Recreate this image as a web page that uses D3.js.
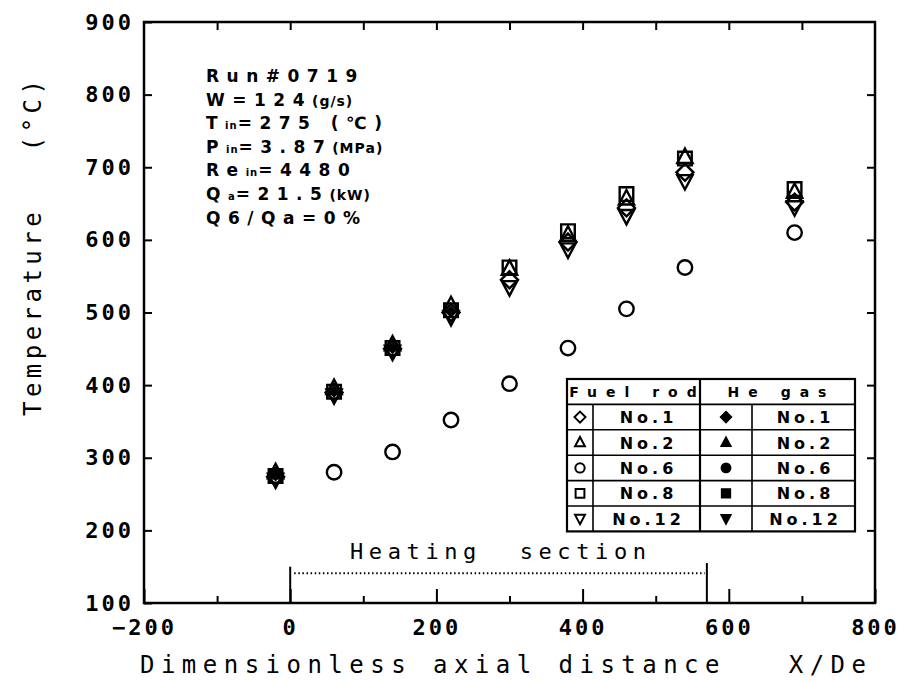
<!DOCTYPE html>
<html>
<head>
<meta charset="utf-8">
<script src="https://cdn.jsdelivr.net/npm/d3@7"></script>
<style>
  body { margin: 0; background: #fff; }
  svg { display: block; }
  text { fill: #000; white-space: pre; }
</style>
</head>
<body>
<div id="chart"></div>
<script>
// data
let xPos = [-20, 60, 140, 220, 300, 380, 460, 540, 690]
let rod1 = [274, 390, 450, 500, 545, 597, 644, 693, 652]
let rod2 = [280, 396, 456, 510, 560, 607, 657, 714, 666]
let rod6 = [274, 280, 308, 352, 402, 451, 505, 562, 610]
let rod8 = [275, 391, 451, 503, 562, 612, 663, 712, 670]
let rod12 = [270, 386, 446, 494, 535, 587, 633, 681, 645]
let gas1 = [276, 391, 451, 501, null, null, null, null, null]

let xTickLabels = [-200, 0, 200, 400, 600, 800]
let xMinor = [-100, 100, 300, 500, 700]
let yTickLabels = [100, 200, 300, 400, 500, 600, 700, 800, 900]
let heatingRange = [0, 570]

let runInfo = [
    [['Run#0719', 0]],
    [['W=124', 0], ['(g/s)', 1]],
    [['T', 0], ['in', 2], ['=275 (℃)', 0]],
    [['P', 0], ['in', 2], ['=3.87', 0], ['(MPa)', 1]],
    [['Re', 0], ['in', 2], ['=4480', 0]],
    [['Q', 0], ['a', 2], ['=21.5', 0], ['(kW)', 1]],
    [['Q6/Qa=0%', 0]]
]

let legendRows = [
    { rod: 'diamond', rodLabel: 'No.1', gas: 'diamond', gasLabel: 'No.1' },
    { rod: 'up', rodLabel: 'No.2', gas: 'up', gasLabel: 'No.2' },
    { rod: 'circle', rodLabel: 'No.6', gas: 'circle', gasLabel: 'No.6' },
    { rod: 'square', rodLabel: 'No.8', gas: 'square', gasLabel: 'No.8' },
    { rod: 'down', rodLabel: 'No.12', gas: 'down', gasLabel: 'No.12' }
]

const W = 904, H = 681
const mono = "'DejaVu Sans Mono', monospace"

const svg = d3.select('#chart').append('svg')
    .attr('width', W).attr('height', H)

const x = d3.scaleLinear().domain([-200, 800]).range([144, 875])
const y = d3.scaleLinear().domain([100, 900]).range([603, 22])

function shapePath(type, s) {
    if (type == 'diamond') return `M0,${-s}L${s},0L0,${s}L${-s},0Z`
    if (type == 'up') return `M0,${-s}L${s*0.9},${s*0.7}L${-s*0.9},${s*0.7}Z`
    if (type == 'down') return `M0,${s}L${s*0.9},${-s*0.7}L${-s*0.9},${-s*0.7}Z`
    if (type == 'square') return `M${-s*0.8},${-s*0.8}H${s*0.8}V${s*0.8}H${-s*0.8}Z`
    let r = s * 0.85
    return `M${r},0A${r},${r} 0 1,1 ${-r},0A${r},${r} 0 1,1 ${r},0Z`
}

// frame
svg.append('rect')
    .attr('x', x(-200)).attr('y', y(900))
    .attr('width', x(800) - x(-200)).attr('height', y(100) - y(900))
    .attr('fill', 'none').attr('stroke', '#000').attr('stroke-width', 2.5)

// bottom axis, major ticks + labels
let bottom = svg.append('g')
    .attr('transform', `translate(0,${y(100)})`)
    .call(d3.axisBottom(x).tickValues(xTickLabels).tickSizeInner(-14).tickSizeOuter(0).tickPadding(16))
bottom.select('.domain').remove()
bottom.selectAll('line').attr('stroke-width', 2)
bottom.selectAll('text').style('font-family', mono).style('font-weight', 'bold')
    .style('font-size', '22px').style('letter-spacing', '3px')

svg.append('g')
    .attr('transform', `translate(0,${y(100)})`)
    .call(d3.axisBottom(x).tickValues(xMinor).tickSize(-7).tickFormat(''))
    .call(g => g.select('.domain').remove())
    .selectAll('line').attr('stroke-width', 2)

// top ticks
svg.append('g')
    .attr('transform', `translate(0,${y(900)})`)
    .call(d3.axisTop(x).tickValues(d3.range(-100, 800, 100)).tickSize(-8).tickFormat(''))
    .call(g => g.select('.domain').remove())
    .selectAll('line').attr('stroke-width', 2)

// left axis
let left = svg.append('g')
    .attr('transform', `translate(${x(-200)},0)`)
    .call(d3.axisLeft(y).tickValues(yTickLabels).tickSizeInner(-8).tickSizeOuter(0).tickPadding(10))
left.select('.domain').remove()
left.selectAll('line').attr('stroke-width', 2)
left.selectAll('text').style('font-family', mono).style('font-weight', 'bold')
    .style('font-size', '22px').style('letter-spacing', '3px')

// right ticks
svg.append('g')
    .attr('transform', `translate(${x(800)},0)`)
    .call(d3.axisRight(y).tickValues(d3.range(200, 900, 100)).tickSize(-8).tickFormat(''))
    .call(g => g.select('.domain').remove())
    .selectAll('line').attr('stroke-width', 2)

// axis titles
svg.append('text')
    .attr('x', 140).attr('y', 673)
    .attr('textLength', 726)
    .style('font-family', mono).style('font-size', '24px')
    .text('Dimensionless axial distance   X/De')

svg.append('text')
    .attr('transform', `translate(41,416) rotate(-90)`)
    .attr('textLength', 336)
    .style('font-family', mono).style('font-size', '24px')
    .text('Temperature   (°C)')

// heating section
let hs = svg.append('g')
hs.append('line')
    .attr('x1', x(heatingRange[0]) + 4).attr('x2', x(heatingRange[1]) - 2)
    .attr('y1', y(141)).attr('y2', y(141))
    .attr('stroke', '#000').attr('stroke-width', 2).attr('stroke-dasharray', '1.5,2.6')
hs.append('line')
    .attr('x1', x(heatingRange[0])).attr('x2', x(heatingRange[0]))
    .attr('y1', y(100)).attr('y2', y(150))
    .attr('stroke', '#000').attr('stroke-width', 2)
hs.append('line')
    .attr('x1', x(heatingRange[1])).attr('x2', x(heatingRange[1]))
    .attr('y1', y(100)).attr('y2', y(155))
    .attr('stroke', '#000').attr('stroke-width', 2)
hs.append('text')
    .attr('x', 350).attr('y', 559)
    .attr('textLength', 296)
    .style('font-family', mono).style('font-size', '22px')
    .text('Heating  section')

// run info block
let info = svg.append('g').attr('transform', 'translate(206,0)')
runInfo.forEach((line, i) => {
    let t = info.append('text')
        .attr('y', 82 + i * 23.6)
        .style('font-family', "'DejaVu Sans', sans-serif")
        .style('font-weight', 'bold')
    line.forEach(seg => {
        let sp = t.append('tspan').text(seg[0])
        if (seg[1] == 0) sp.style('font-size', '17px').style('letter-spacing', '7.5px')
        if (seg[1] == 1) sp.style('font-size', '14px').style('letter-spacing', '1px')
        if (seg[1] == 2) sp.style('font-size', '10px').style('letter-spacing', '1px')
    })
})

// data points
let series = [
    { vals: rod8, shape: 'square', fill: 'none' },
    { vals: rod2, shape: 'up', fill: 'none' },
    { vals: rod1, shape: 'diamond', fill: 'none' },
    { vals: rod12, shape: 'down', fill: 'none' },
    { vals: rod6, shape: 'circle', fill: 'none' },
    { vals: gas1, shape: 'diamond', fill: '#000' }
]
let pts = svg.append('g')
series.forEach(s => {
    let data = xPos.map((d, i) => [d, s.vals[i]]).filter(d => d[1] != null)
    pts.selectAll(null)
        .data(data)
        .join('path')
        .attr('transform', d => `translate(${x(d[0])},${y(d[1])})`)
        .attr('d', shapePath(s.shape, s.fill == 'none' ? 8.5 : 4.5))
        .attr('fill', s.fill)
        .attr('stroke', '#000')
        .attr('stroke-width', 2.4)
})

// legend table
let lg = svg.append('g').attr('transform', 'translate(567,379)')
let cols = [0, 26, 133, 185, 288]
let rowH = 25.4
lg.append('rect').attr('width', cols[4]).attr('height', rowH * 6)
    .attr('fill', '#fff').attr('stroke', '#000').attr('stroke-width', 2.2)
d3.range(1, 6).forEach(r => {
    lg.append('line').attr('x1', 0).attr('x2', cols[4])
        .attr('y1', r * rowH).attr('y2', r * rowH)
        .attr('stroke', '#000').attr('stroke-width', 1.6)
})
;[1, 3].forEach(c => {
    lg.append('line').attr('x1', cols[c]).attr('x2', cols[c])
        .attr('y1', rowH).attr('y2', rowH * 6)
        .attr('stroke', '#000').attr('stroke-width', 1.6)
})
lg.append('line').attr('x1', cols[2]).attr('x2', cols[2])
    .attr('y1', 0).attr('y2', rowH * 6)
    .attr('stroke', '#000').attr('stroke-width', 2.2)

let headFont = g => g.style('font-family', "'DejaVu Sans', sans-serif").style('font-weight', 'bold')
    .style('font-size', '14px').attr('text-anchor', 'middle')
lg.append('text').attr('x', cols[2] / 2 + 4).attr('y', 18).call(headFont)
    .style('letter-spacing', '9px').text('Fuel rod')
lg.append('text').attr('x', (cols[2] + cols[4]) / 2 + 4).attr('y', 18).call(headFont)
    .style('letter-spacing', '9px').text('He gas')

legendRows.forEach((r, i) => {
    let cy = rowH * (i + 1.5)
    lg.append('path').attr('transform', `translate(${cols[0] + 13},${cy})`)
        .attr('d', shapePath(r.rod, 5.5)).attr('fill', 'none')
        .attr('stroke', '#000').attr('stroke-width', 2)
    lg.append('path').attr('transform', `translate(${(cols[2] + cols[3]) / 2},${cy})`)
        .attr('d', shapePath(r.gas, 5.5)).attr('fill', '#000')
        .attr('stroke', '#000').attr('stroke-width', 1.5)
    lg.append('text').attr('x', (cols[1] + cols[2]) / 2 + 2).attr('y', cy + 6).call(headFont)
        .style('font-size', '16px').style('letter-spacing', '4px').text(r.rodLabel)
    lg.append('text').attr('x', (cols[3] + cols[4]) / 2 + 2).attr('y', cy + 6).call(headFont)
        .style('font-size', '16px').style('letter-spacing', '4px').text(r.gasLabel)
})
</script>
</body>
</html>
